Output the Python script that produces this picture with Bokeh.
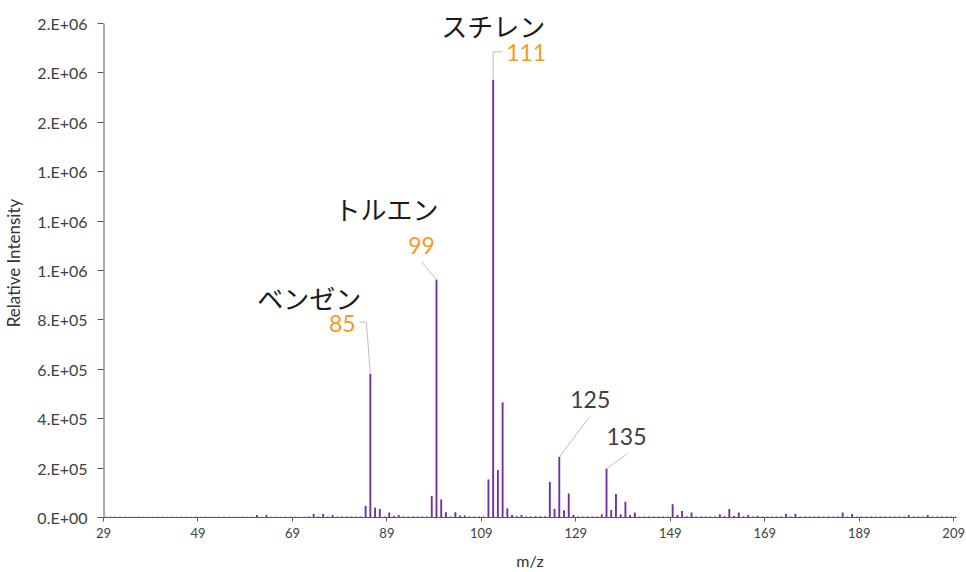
from bokeh.plotting import figure
from bokeh.models import ColumnDataSource, FixedTicker, Label, Range1d
from bokeh.transform import dodge
from bokeh.embed import file_html
from bokeh.resources import INLINE

# ---------------- data ----------------
mz = list(range(29, 210))
intensity = [
    3000, 3000, 3000, 3000, 3000, 3000, 3000, 3000, 3000, 3000,          # 29-38
    3000, 3000, 3000, 3000, 3000, 3000, 3000, 3000, 3000, 3000,          # 39-48
    3000, 3000, 3000, 3000, 3000, 3000, 3000, 3000, 3000, 3000,          # 49-58
    3000, 3000, 10000, 3000, 10000, 3000, 3000, 3000, 3000, 3000,        # 59-68
    3000, 3000, 3000, 4000, 14000, 4000, 14000, 4000, 10000, 4000,       # 69-78
    4000, 4000, 4000, 4000, 4000, 47000, 581000, 40000, 34000, 4000,     # 79-88
    20000, 6000, 10000, 4000, 4000, 4000, 4000, 4000, 4000, 87000,       # 89-98
    963000, 73000, 21000, 4000, 21000, 8000, 8000, 4000, 4000, 4000,     # 99-108
    4000, 154000, 1772000, 192000, 466000, 37000, 10000, 5000, 10000, 4000,  # 109-118
    4000, 5000, 5000, 5000, 144000, 35000, 245000, 29000, 97000, 10000,  # 119-128
    4000, 4000, 4000, 4000, 4000, 13000, 198000, 30000, 95000, 13000,    # 129-138
    64000, 10000, 20000, 4000, 4000, 4000, 4000, 4000, 4000, 4000,       # 139-148
    54000, 10000, 26000, 5000, 20000, 4000, 4000, 4000, 4000, 4000,      # 149-158
    13000, 5000, 34000, 6000, 20000, 5000, 10000, 4000, 7000, 4000,      # 159-168
    4000, 4000, 4000, 4000, 14000, 4000, 14000, 4000, 4000, 4000,        # 169-178
    4000, 4000, 4000, 4000, 4000, 4000, 20000, 4000, 14000, 4000,        # 179-188
    4000, 4000, 4000, 4000, 4000, 4000, 4000, 4000, 4000, 4000,          # 189-198
    10000, 4000, 4000, 4000, 10000, 4000, 4000, 4000, 4000, 4000,        # 199-208
    4000,                                                                # 209
]

x_ticks = [29, 49, 69, 89, 109, 129, 149, 169, 189, 209]
y_ticks = [0, 200000, 400000, 600000, 800000, 1000000, 1200000, 1400000,
           1600000, 1800000, 2000000]
y_tick_labels = ["0.E+00", "2.E+05", "4.E+05", "6.E+05", "8.E+05", "1.E+06",
                 "1.E+06", "1.E+06", "2.E+06", "2.E+06", "2.E+06"]

named_peaks = [85, 99, 111]
named_labels = ["ベンゼン", "トルエン", "スチレン"]
other_peaks = [125, 135]

# ---------------- layout ----------------
W, H = 966, 572
BL, BR, BT, BB = 103, 10, 8, 53
HEAD = 15                      # px of frame above the top tick (room for the top label)
X0, X1 = 29, 209.6
Y0, YTOP = 0, 2000000
fw = W - BL - BR
fh = H - BT - BB
pxx = fw / (X1 - X0)
pxy = (fh - HEAD) / (YTOP - Y0)
Y1 = YTOP + HEAD / pxy

p = figure(width=W, height=H, output_backend="svg", toolbar_location=None,
           x_range=Range1d(X0, X1), y_range=Range1d(Y0, Y1),
           min_border_left=BL, min_border_right=BR,
           min_border_top=BT, min_border_bottom=BB)
p.outline_line_color = None
p.grid.visible = False
p.background_fill_color = "white"
p.border_fill_color = "white"

src = ColumnDataSource(dict(mz=mz, intensity=intensity))
p.vbar(x=dodge("mz", 0.5, range=p.x_range), top="intensity", bottom=0,
       width=0.4, source=src, fill_color="#7030A0", line_color=None)

# axes
axis_color = "#595959"
for ax in (p.xaxis[0], p.yaxis[0]):
    ax.axis_line_color = axis_color
    ax.major_tick_line_color = axis_color
    ax.minor_tick_line_color = None
    ax.major_tick_in = 0
    ax.major_label_text_font = "Lato"
    ax.major_label_text_color = "#404040"
    ax.axis_label_text_font = "Lato"
    ax.axis_label_text_font_style = "normal"
    ax.axis_label_text_color = "#333333"

p.xaxis.ticker = FixedTicker(ticks=x_ticks)
p.xaxis.major_tick_out = 4
p.xaxis.major_label_text_font_size = "13px"
p.xaxis.major_label_standoff = 6
p.xaxis.axis_label = "m/z"
p.xaxis.axis_label_text_font_size = "16px"
p.xaxis.axis_label_standoff = 10

p.yaxis.ticker = FixedTicker(ticks=y_ticks)
p.yaxis.major_label_overrides = {t: s for t, s in zip(y_ticks, y_tick_labels)}
p.yaxis.major_tick_out = 6
p.yaxis.major_label_text_font_size = "16px"
p.yaxis.major_label_standoff = 10
p.yaxis.axis_line_color = None          # drawn below, only from 0 to the top tick
p.yaxis.axis_label = "Relative Intensity"
p.yaxis.axis_label_text_font_size = "17px"
p.yaxis.axis_label_standoff = 10

p.segment(x0=[X0], y0=[Y0], x1=[X0], y1=[YTOP], line_color=axis_color, line_width=2)

# ---------------- annotations ----------------
val = dict(zip(mz, intensity))
orange = "#F59A23"
leader = "#BFBFBF"

# offsets (screen px, y downward) relative to the bar top
num_off = {85: (-28, -50), 99: (-15, -34), 111: (33, -27), 125: (31, -57), 135: (20, -32)}
name_off = {85: (-61, -76), 99: (-50, -71), 111: (0, -54)}
lead_pts = {
    85: [(-11, -52), (-4, -52), (0, 0)],
    99: [(-15, -18), (0, 0)],
    111: [(0, 0), (0, -28), (9, -28)],
    125: [(30, -40), (0, 0)],
    135: [(21, -15), (0, 0)],
}

def to_data(m, dx, dy):
    return m + 0.5 + dx / pxx, val[m] - dy / pxy

for m in named_peaks + other_peaks:
    pts = [to_data(m, dx, dy) for dx, dy in lead_pts[m]]
    p.line([q[0] for q in pts], [q[1] for q in pts], line_color=leader, line_width=1)
    dx, dy = num_off[m]
    p.add_layout(Label(x=m + 0.5, y=val[m], x_offset=dx, y_offset=-dy, text=str(m),
                       text_align="center", text_baseline="middle",
                       text_font="Lato", text_font_size="23px",
                       text_color=orange if m in named_peaks else "#404040"))

for m, name in zip(named_peaks, named_labels):
    dx, dy = name_off[m]
    p.add_layout(Label(x=m + 0.5, y=val[m], x_offset=dx, y_offset=-dy, text=name,
                       text_align="center", text_baseline="middle",
                       text_font="Noto Sans CJK JP", text_font_size="26px",
                       text_color="#1a1a1a"))

open("out.html", "w").write(file_html(p, INLINE))
